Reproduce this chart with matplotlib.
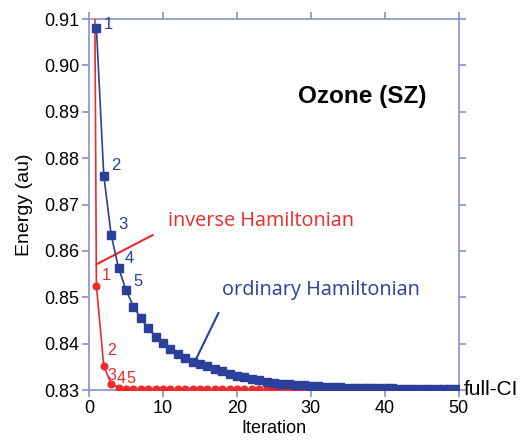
import matplotlib
matplotlib.use("Agg")
import matplotlib.pyplot as plt

plt.rcParams['font.family'] = ['Liberation Sans', 'DejaVu Sans']

# ordinary Hamiltonian, iterations 1..50
ord_iter = list(range(1, 51))
ord_energy = [0.9081, 0.8762, 0.8634, 0.8563, 0.8516, 0.8480, 0.8455, 0.8433, 0.8415, 0.8401,
              0.8389, 0.8378, 0.8370, 0.8361, 0.8356, 0.8351, 0.8346, 0.8340, 0.8335, 0.8331,
              0.8327, 0.8324, 0.8321, 0.8318, 0.8316, 0.8314, 0.8312, 0.8311, 0.8310, 0.8309,
              0.8308, 0.8307, 0.8306, 0.8306, 0.8305, 0.8305, 0.8305, 0.8304, 0.8304, 0.8304,
              0.8304, 0.8303, 0.8303, 0.8303, 0.8303, 0.8303, 0.8303, 0.8303, 0.8303, 0.8303]

# inverse Hamiltonian, iteration 0 is off the scale
inv_iter = list(range(0, 51))
inv_energy = [1.14, 0.8525, 0.8351, 0.8314, 0.8305, 0.8303] + [0.8302] * 45

full_ci = 0.8302

blue = '#2b3f9b'
red = '#ee2a2a'
spine_col = '#8a90cc'

fig = plt.figure(figsize=(5.22, 4.41), dpi=100)
ax = fig.add_axes([0.1705, 0.1156, 0.7085, 0.8413])

ax.plot(inv_iter, inv_energy, '-o', color=red, lw=1.2, ms=4.8, zorder=3)
ax.plot(ord_iter, ord_energy, '-s', color=blue, lw=1.2, ms=5.6, zorder=4)

ax.set_xlim(0, 50)
ax.set_ylim(0.83, 0.91)
ax.set_xticks(range(0, 51, 10))
ax.set_yticks([0.83 + 0.01 * i for i in range(9)])
ax.set_yticklabels([f"{0.83 + 0.01 * i:.2f}" for i in range(9)])

for s in ax.spines.values():
    s.set_color(spine_col)
    s.set_linewidth(1.2)
ax.tick_params(direction='out', length=5, width=1.2, color=spine_col,
               labelsize=13, top=True, right=True, pad=2)

ax.set_xlabel("Iteration", fontsize=13, labelpad=2)
ax.set_ylabel("Energy (au)", fontsize=14, labelpad=8)

# point numbers (offsets in points)
blue_off = [(5, -3), (5, 2), (5, 2), (4, 1.5), (5, 0.5)]
for i in range(5):
    ax.annotate(str(i + 1), (ord_iter[i], ord_energy[i]), xytext=blue_off[i],
                textcoords='offset points', color=blue, fontsize=12, va='bottom')
red_off = [(3.5, 2), (2.5, 6), (-2.8, 0.5), (-1.2, 1.5), (0.6, 2)]
for i in range(5):
    ax.annotate(str(i + 1), (inv_iter[i + 1], inv_energy[i + 1]), xytext=red_off[i],
                textcoords='offset points', color=red, fontsize=11.5, va='bottom')

ax.text(0.74, 0.79, "Ozone (SZ)", transform=ax.transAxes, fontsize=17.5,
        fontweight='bold', ha='center', va='center')

ax.plot([1.0, 8.6], [0.8571, 0.8634], color=red, lw=1.5, clip_on=False)
ax.text(10.7, 0.8665, "inverse Hamiltonian", color=red, fontsize=14.3,
        family=['Open Sans', 'DejaVu Sans'], va='center')

ax.plot([14.3, 17.5], [0.8361, 0.8466], color=blue, lw=1.5)
ax.text(31.4, 0.8515, "ordinary Hamiltonian", color=blue, fontsize=14.3,
        family=['Open Sans', 'DejaVu Sans'], ha='center', va='center')

ax.text(50.7, full_ci, "full-CI", fontsize=15, va='center', ha='left', clip_on=False)

fig.savefig("out.png", dpi=100)
